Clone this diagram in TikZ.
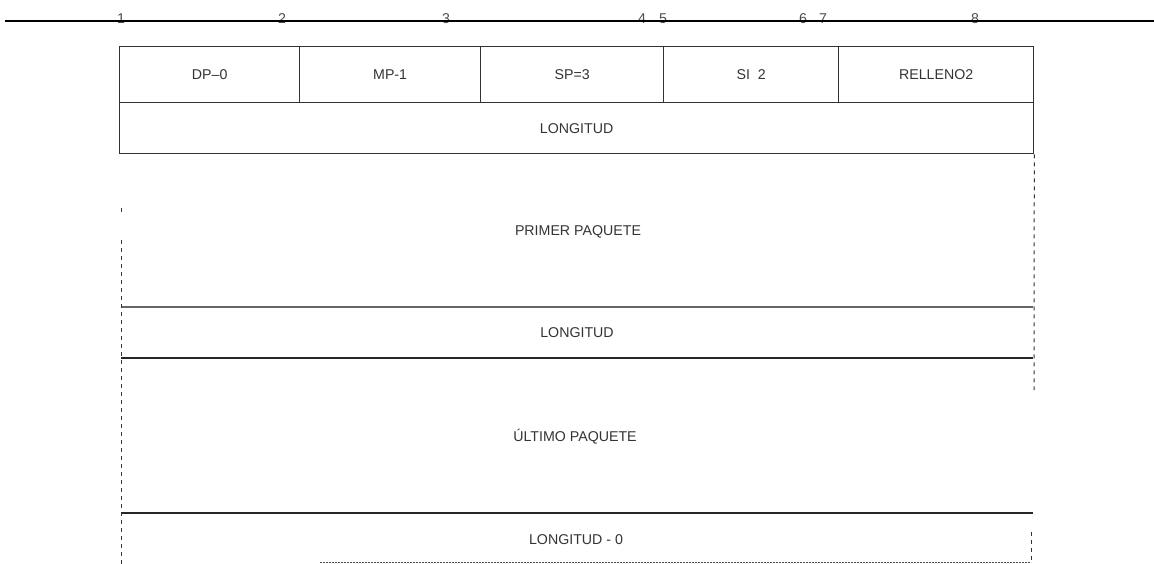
\documentclass[tikz,border=0pt]{standalone}
\usepackage{fontspec}
\setmainfont{Liberation Sans}

\begin{document}
\begin{tikzpicture}[x=1pt, y=-1pt,
    every node/.style={font=\fontsize{14.2}{16}\selectfont, text=black!80, inner sep=1pt},
    field/.style={draw=black!80, line width=1.3pt, rectangle, inner sep=0pt, anchor=north west},
    rule/.style={draw=black!85, line width=1.3pt},
    guide/.style={draw=black!80, line width=1pt, dash pattern=on 4pt off 4pt}]
            \useasboundingbox (0,0) rectangle (1154,564);
            % ruler on top
            \foreach \i/\x in {1/121, 2/282, 3/446, 4/642, 5/663, 6/803, 7/823, 8/975} {
                \node[text=black!70] (tick\i) at (\x,19) {\i};
            }
            \coordinate (rulerL) at (5,21);
            \coordinate (rulerR) at (1154,21);
            \draw[line width=1.8pt] (rulerL) -- (rulerR);
            % header fields
            \foreach \name/\x/\w/\txt in {dp/119/180/DP--0, mp/299/181/MP-1, sp/480/183/SP=3, si/663/175/SI\ \ 2, fill/838/195/RELLENO2} {
                \node[field, minimum width=\w pt, minimum height=56pt] (\name) at (\x,46) {\txt};
            }
            \node[field, minimum width=914pt, minimum height=51pt] (len1) at (119,102) {LONGITUD};
            % packets
            \foreach \n/\y in {a/307, b/358, c/513} {
                \coordinate (\n L) at (121,\y);
                \coordinate (\n R) at (1033,\y);
            }
            \draw[rule, draw=black!60] (aL) -- (aR);
            \draw[rule] (bL) -- (bR);
            \draw[rule] (cL) -- (cR);
            \node (first) at (578,232) {PRIMER PAQUETE};
            \node (len2) at (577,333) {LONGITUD};
            \node (last) at (575,437) {ÚLTIMO PAQUETE};
            \node (len3) at (576,540) {LONGITUD - 0};
            % dashed sides
            \coordinate (leftT) at (121,240);
            \coordinate (leftB) at (121,564);
            \coordinate (rightB) at (1034,390);
            \draw[guide] (121,208) -- (121,214);
            \draw[guide] (leftT) -- (leftB);
            \draw[guide] (len1.south east) -- (rightB);
            \draw[guide] (1031,532) -- (1031,560);
            \coordinate (botL) at (320,562);
            \coordinate (botR) at (1031,562);
            \draw[draw=black!70, line width=1pt, dash pattern=on 2pt off 1pt] (botL) -- (botR);
        \end{tikzpicture}
\end{document}
